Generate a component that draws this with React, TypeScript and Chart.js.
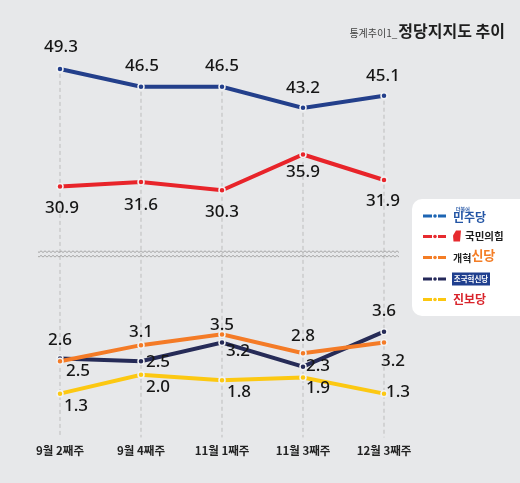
import React, { useEffect, useRef } from 'react';
import { Chart, registerables } from 'chart.js';

Chart.register(...registerables);

// ---- data ----
const categories = ['9월 2째주', '9월 4째주', '11월 1째주', '11월 3째주', '12월 3째주'];
const seriesNames = ['더불어민주당', '국민의힘', '개혁신당', '조국혁신당', '진보당'];
const minjooValues = [49.3, 46.5, 46.5, 43.2, 45.1];
const pppValues = [30.9, 31.6, 30.3, 35.9, 31.9];
const reformValues = [2.5, 3.1, 3.5, 2.8, 3.2];
const rebuildValues = [2.6, 2.5, 3.2, 2.3, 3.6];
const progressiveValues = [1.3, 2.0, 1.8, 1.9, 1.3];
const titleSmall = '통계추이1_';
const titleBig = '정당지지도 추이';

// ---- styles ----
const BG = '#e7e8ea';
const lineColors = ['#233f8b', '#e8242a', '#f47b27', '#262b57', '#fcc812'];
const legendColors = ['#1d65b3', '#e62b2f', '#f47d25', '#25295a', '#fcc70f'];
const axisOf = ['yTop', 'yTop', 'yBot', 'yBot', 'yBot'];
// value-label placement relative to each point (style only)
const labelOffsets: number[][][] = [
  [[1, -22], [1, -21], [0, -21], [0, -20], [-1, -20]],
  [[2, 22], [0, 23], [0, 22], [0, 18], [-1, 21]],
  [[18, 10], [0, -13], [0, -9], [0, -17], [9, 19]],
  [[0, -18], [17, 1], [16, 9], [15, -1], [0, -21]],
  [[16, 13], [17, 12], [17, 12], [15, 11], [14, -1]],
];
const KR = "'Noto Sans CJK KR', 'Noto Sans', sans-serif";
const NUM = "'Noto Sans', 'Noto Sans CJK KR', sans-serif";

function rr(ctx: CanvasRenderingContext2D, x: number, y: number, w: number, h: number, r: number) {
  ctx.beginPath();
  ctx.moveTo(x + r, y);
  ctx.arcTo(x + w, y, x + w, y + h, r);
  ctx.arcTo(x + w, y + h, x, y + h, r);
  ctx.arcTo(x, y + h, x, y, r);
  ctx.arcTo(x, y, x + w, y, r);
  ctx.closePath();
}

const bgPlugin = {
  id: 'bgFill',
  beforeDraw(chart: any) {
    const { ctx, width, height } = chart;
    ctx.save();
    ctx.fillStyle = BG;
    ctx.fillRect(0, 0, width, height);
    ctx.restore();
  },
};

const dropAndBreakPlugin = {
  id: 'dropBreak',
  beforeDatasetsDraw(chart: any) {
    const { ctx, chartArea } = chart;
    const meta = chart.getDatasetMeta(0);
    ctx.save();
    ctx.strokeStyle = '#bdbdbd';
    ctx.lineWidth = 1;
    ctx.setLineDash([4, 3]);
    meta.data.forEach((pt: any) => {
      ctx.beginPath();
      ctx.moveTo(pt.x, pt.y + 5);
      ctx.lineTo(pt.x, chartArea.bottom - 2);
      ctx.stroke();
    });
    ctx.setLineDash([]);
    // break lines
    const yb = chart.scales.yTop.bottom;
    const x0 = meta.data[0].x - 22;
    const x1 = meta.data[meta.data.length - 1].x + 15;
    ctx.strokeStyle = '#9a9a9a';
    ctx.lineWidth = 1;
    [-3, 1.5].forEach((off) => {
      ctx.beginPath();
      for (let x = x0; x <= x1; x += 0.5) {
        const y = yb + off + Math.sin((x - x0) * Math.PI / 2) * 0.6;
        if (x === x0) ctx.moveTo(x, y);
        else ctx.lineTo(x, y);
      }
      ctx.stroke();
    });
    ctx.restore();
  },
};

const labelPlugin = {
  id: 'valueLabels',
  afterDatasetsDraw(chart: any) {
    const { ctx } = chart;
    ctx.save();
    ctx.font = `500 17px ${NUM}`;
    ctx.fillStyle = '#161616';
    ctx.textAlign = 'center';
    ctx.textBaseline = 'middle';
    chart.data.datasets.forEach((ds: any, di: number) => {
      const meta = chart.getDatasetMeta(di);
      meta.data.forEach((pt: any, i: number) => {
        const [dx, dy] = labelOffsets[di][i];
        ctx.fillText(ds.data[i].toFixed(1), pt.x + dx, pt.y + dy);
      });
    });
    ctx.restore();
  },
};

const titlePlugin = {
  id: 'titleDraw',
  afterDraw(chart: any) {
    const { ctx } = chart;
    ctx.save();
    ctx.textBaseline = 'alphabetic';
    ctx.textAlign = 'right';
    ctx.font = `700 16px ${KR}`;
    ctx.fillStyle = '#1e1e1e';
    const xr = 505;
    ctx.fillText(titleBig, xr, 37);
    const w = ctx.measureText(titleBig).width;
    ctx.font = `400 10px ${KR}`;
    ctx.fillStyle = '#444';
    ctx.fillText(titleSmall, xr - w - 1, 37);
    ctx.restore();
  },
};

const legendPlugin = {
  id: 'legendDraw',
  afterDraw(chart: any) {
    const { ctx } = chart;
    ctx.save();
    ctx.fillStyle = '#ffffff';
    rr(ctx, 412, 199, 130, 117, 10);
    ctx.fill();
    const centers = [216, 236.5, 257.5, 279, 299.5];
    chart.data.datasets.forEach((ds: any, i: number) => {
      const cy = centers[i];
      const c = legendColors[i];
      ctx.strokeStyle = c;
      ctx.fillStyle = c;
      ctx.lineWidth = 3;
      ctx.beginPath();
      ctx.moveTo(423, cy);
      ctx.lineTo(432, cy);
      ctx.moveTo(438, cy);
      ctx.lineTo(446, cy);
      ctx.stroke();
      ctx.beginPath();
      ctx.arc(435, cy, 1.8, 0, Math.PI * 2);
      ctx.fill();
      ctx.textAlign = 'left';
      ctx.textBaseline = 'middle';
      if (i === 0) {
        ctx.fillStyle = '#2355a5';
        ctx.font = `700 5px ${KR}`;
        ctx.fillText('더불어', 456, cy - 7);
        ctx.font = `700 12px ${KR}`;
        ctx.fillText('민주당', 453, cy + 1);
      } else if (i === 1) {
        ctx.fillStyle = '#e62b2f';
        ctx.beginPath();
        ctx.moveTo(456, cy - 6);
        ctx.lineTo(461, cy - 6);
        ctx.lineTo(460, cy + 5);
        ctx.lineTo(453.5, cy + 5);
        ctx.lineTo(453, cy - 1);
        ctx.closePath();
        ctx.fill();
        ctx.fillStyle = '#1e1e1e';
        ctx.font = `700 10.5px ${KR}`;
        ctx.fillText('국민의힘', 465, cy);
      } else if (i === 2) {
        ctx.fillStyle = '#1e1e1e';
        ctx.font = `700 10px ${KR}`;
        ctx.fillText('개혁', 453, cy + 1);
        const w = ctx.measureText('개혁').width;
        ctx.fillStyle = '#f47d25';
        ctx.font = `700 13px ${KR}`;
        ctx.fillText('신당', 453 + w, cy - 2);
      } else if (i === 3) {
        ctx.fillStyle = '#1f3f8e';
        ctx.fillRect(452, cy - 6.5, 38, 13);
        ctx.fillStyle = '#ffffff';
        ctx.font = `700 7.5px ${KR}`;
        ctx.textAlign = 'center';
        ctx.fillText('조국혁신당', 471, cy);
      } else {
        ctx.fillStyle = '#d9232a';
        ctx.font = `700 12px ${KR}`;
        ctx.fillText('진보당', 453, cy);
      }
    });
    ctx.restore();
  },
};

const allValues = [minjooValues, pppValues, reformValues, rebuildValues, progressiveValues];

export default function App() {
  const ref = useRef<HTMLCanvasElement | null>(null);
  useEffect(() => {
    document.body.style.margin = '0';
    if (!ref.current) return;
    const hidden = {
      display: true,
      ticks: { display: false },
      grid: { display: false, drawTicks: false },
      border: { display: false },
    };
    const chart = new Chart(ref.current, {
      type: 'line',
      data: {
        labels: categories,
        datasets: allValues.map((vals, i) => ({
          label: seriesNames[i],
          data: vals,
          yAxisID: axisOf[i],
          borderColor: lineColors[i],
          backgroundColor: lineColors[i],
          borderWidth: 4,
          pointRadius: 3,
          pointBackgroundColor: lineColors[i],
          pointBorderColor: '#f2f3f4',
          pointBorderWidth: 1.5,
          tension: 0,
          fill: false,
        })),
      },
      options: {
        animation: false,
        responsive: false,
        maintainAspectRatio: false,
        layout: { padding: { top: 51.7, left: 19.5, right: 95.5, bottom: 21.8 } },
        plugins: {
          legend: { display: false },
          tooltip: { enabled: false },
          title: { display: false },
        },
        scales: {
          x: {
            type: 'category',
            offset: true,
            grid: { display: false, drawTicks: false },
            border: { display: false },
            ticks: { color: '#222', padding: 4, font: { family: KR, size: 11.5, weight: 'bold' } },
          },
          yBot: { ...hidden, type: 'linear', stack: 'v', stackWeight: 185, min: -0.4, max: 6.46 },
          yTop: { ...hidden, type: 'linear', stack: 'v', stackWeight: 203.3, min: 20.2, max: 52 },
        } as any,
      },
      plugins: [bgPlugin, dropAndBreakPlugin, labelPlugin, titlePlugin, legendPlugin],
    });
    return () => chart.destroy();
  }, []);
  return (
    <div style={{ width: 520, height: 483, background: BG }}>
      <canvas ref={ref} width={520} height={483} style={{ display: 'block' }} />
    </div>
  );
}
